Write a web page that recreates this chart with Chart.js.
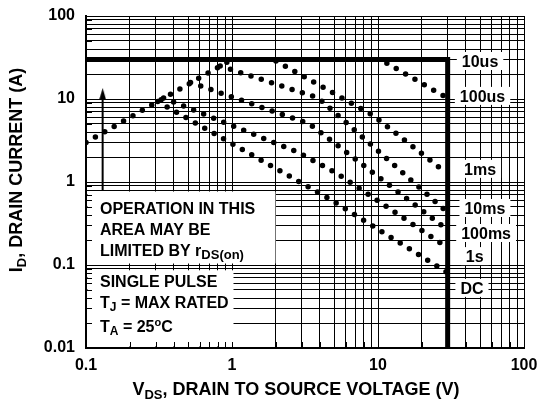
<!DOCTYPE html>
<html>
<head>
<meta charset="utf-8">
<script src="https://cdn.jsdelivr.net/npm/chart.js@4.4.1/dist/chart.umd.min.js"></script>
<style>
  html, body { margin: 0; padding: 0; background: #fff; }
  #wrap { width: 539px; height: 402px; }
</style>
</head>
<body>
<div id="wrap"><canvas id="soaChart" width="539" height="402"></canvas></div>
<script>
// tick labels
const xTickLabels = ['0.1', '1', '10', '100'];
const yTickLabels = ['0.01', '0.1', '1', '10', '100'];

// current / voltage limit (10us)
const limitV = [0.1, 30, 30];
const limitI = [30, 30, 0.01];

// rDS(on) limit line
const rdsV = [0.1, 1.0];
const rdsI = [3.0, 30];

// pulse curves (V, A)
const us100V = [11.5, 29.5];
const us100I = [27, 10.4];
const ms1V = [2.0, 9.2, 29.5];
const ms1I = [28.7, 6.4, 1.28];
const ms10V = [0.83, 3.9, 29.5];
const ms10I = [25, 10.3, 0.44];
const ms100V = [0.52, 3.4, 29.5];
const ms100I = [15.8, 5.0, 0.27];
const s1V = [0.34, 2.8, 5.2, 29.5];
const s1I = [10.3, 2.3, 1.28, 0.165];
const dcV = [0.31, 4.7, 29.5];
const dcI = [9.3, 0.62, 0.082];

// arrow in the rDS(on) area
const arrowV = [0.13, 0.13];
const arrowI = [0.8, 11.5];

const pulseLabels = ['10us', '100us', '1ms', '10ms', '100ms', '1s', 'DC'];

const FONT = '"Liberation Sans", Arial, Helvetica, sans-serif';
function font(sz) { return 'bold ' + sz + 'px ' + FONT; }

function pts(vs, is) {
    return vs.map((v, i) => ({ x: v, y: is[i] }));
}

// 1..9 per decade, for the grid
function logTicks(lo, hi) {
    const out = [];
    for (let e = lo; e < hi; e++) {
        for (let m = 1; m < 10; m++) out.push(+(m * Math.pow(10, e)).toPrecision(3));
    }
    out.push(Math.pow(10, hi));
    return out;
}
const xGrid = logTicks(-1, 2);
const yGrid = logTicks(-2, 2);

function labelFor(list, value) {
    return list.find(l => Math.abs(Number(l) - value) < 1e-9) || '';
}

function drawRich(ctx, parts, x, y, align) {
    let w = 0;
    parts.forEach(p => {
        ctx.font = font(p.size);
        p.w = ctx.measureText(p.text).width;
        w += p.w;
    });
    let cx = align === 'center' ? x - w / 2 : x;
    parts.forEach(p => {
        ctx.font = font(p.size);
        ctx.fillText(p.text, cx, y + (p.dy || 0));
        cx += p.w;
    });
}

// narrow arrow head
const arrowHead = document.createElement('canvas');
arrowHead.width = 7;
arrowHead.height = 12;
(function () {
    const c = arrowHead.getContext('2d');
    c.fillStyle = '#000';
    c.beginPath();
    c.moveTo(3.5, 0);
    c.lineTo(7, 12);
    c.lineTo(0, 12);
    c.closePath();
    c.fill();
})();

// label anchors (V, A) for the curve names on the right
const labelAt = [[50, 28.7], [52, 10.9], [50, 1.44], [54, 0.486], [55, 0.243], [46, 0.128], [44, 0.053]];

const notes = {
    id: 'notes',
    beforeDatasetsDraw(chart) {
        const { ctx, chartArea: a, scales: { x, y } } = chart;
        ctx.save();
        ctx.fillStyle = '#fff';
        // text areas hide the grid
        const t1 = y.getPixelForValue(0.8) + 1.5;
        const b1 = y.getPixelForValue(0.1) - 1.5;
        const r1 = x.getPixelForValue(2.0) - 0.5;
        ctx.fillRect(a.left + 1.5, t1, r1 - a.left - 1.5, b1 - t1);
        const t2 = y.getPixelForValue(0.09) + 1.5;
        const r2 = x.getPixelForValue(1.0) + 1.5;
        ctx.fillRect(a.left + 1.5, t2, r2 - a.left - 1.5, a.bottom - 1.5 - t2);

        // inner tick marks along the axes
        ctx.strokeStyle = '#000';
        ctx.lineWidth = 1;
        y.ticks.forEach(t => {
            const py = Math.round(y.getPixelForValue(t.value)) + 0.5;
            ctx.beginPath(); ctx.moveTo(a.left, py); ctx.lineTo(a.left + 6, py); ctx.stroke();
        });
        x.ticks.forEach(t => {
            const px = Math.round(x.getPixelForValue(t.value)) + 0.5;
            ctx.beginPath(); ctx.moveTo(px, a.bottom); ctx.lineTo(px, a.bottom - 6); ctx.stroke();
        });

        ctx.fillStyle = '#000';
        ctx.textAlign = 'left';
        ctx.textBaseline = 'alphabetic';
        const tx = a.left + 14;
        drawRich(ctx, [{ text: 'OPERATION IN THIS', size: 16 }], tx, t1 + 22.5);
        drawRich(ctx, [{ text: 'AREA MAY BE', size: 16 }], tx, t1 + 43);
        drawRich(ctx, [{ text: 'LIMITED BY r', size: 16 }, { text: 'DS(on)', size: 13, dy: 3 }], tx, t1 + 64.5);
        drawRich(ctx, [{ text: 'SINGLE PULSE', size: 16 }], tx, t2 + 17);
        drawRich(ctx, [{ text: 'T', size: 16 }, { text: 'J', size: 12, dy: 3 }, { text: ' = MAX RATED', size: 16 }], tx, t2 + 38);
        drawRich(ctx, [{ text: 'T', size: 16 }, { text: 'A', size: 12, dy: 3 }, { text: ' = 25', size: 16 },
                       { text: 'o', size: 11, dy: -6 }, { text: 'C', size: 16 }], tx, t2 + 62);

        // curve names
        ctx.font = font(16);
        pulseLabels.forEach((name, i) => {
            const px = x.getPixelForValue(labelAt[i][0]);
            const py = y.getPixelForValue(labelAt[i][1]);
            const w = ctx.measureText(name).width;
            ctx.fillStyle = '#fff';
            ctx.fillRect(px - w / 2 - 5, py - 9, w + 10, 18);
            ctx.fillStyle = '#000';
            ctx.textAlign = 'center';
            ctx.fillText(name, px, py + 6);
        });
        ctx.restore();
    },
    afterDraw(chart) {
        const { ctx } = chart;
        ctx.save();
        ctx.fillStyle = '#000';
        ctx.textAlign = 'left';
        ctx.textBaseline = 'alphabetic';
        drawRich(ctx, [{ text: 'V', size: 18 }, { text: 'DS', size: 13, dy: 4 },
                       { text: ', DRAIN TO SOURCE VOLTAGE (V)', size: 18 }], 296, 395, 'center');
        ctx.translate(16, 170);
        ctx.rotate(-Math.PI / 2);
        drawRich(ctx, [{ text: 'I', size: 18 }, { text: 'D', size: 13, dy: 4 },
                       { text: ', DRAIN CURRENT (A)', size: 18 }], 0, 6, 'center');
        ctx.restore();
    }
};

const dotted = {
    borderColor: '#000',
    borderWidth: 5.5,
    borderDash: [0, 10.8],
    borderCapStyle: 'round',
    pointRadius: 0,
    fill: false,
    tension: 0
};

const ctx = document.getElementById('soaChart').getContext('2d');
const chart = new Chart(ctx, {
    type: 'line',
    data: {
        datasets: [
            { label: '10us', data: pts(limitV, limitI), borderColor: '#000', borderWidth: 5,
              pointRadius: 0, borderJoinStyle: 'miter', fill: false },
            { label: 'rDS(on)', data: pts(rdsV, rdsI), ...dotted },
            { label: '100us', data: pts(us100V, us100I), ...dotted },
            { label: '1ms', data: pts(ms1V, ms1I), ...dotted },
            { label: '10ms', data: pts(ms10V, ms10I), ...dotted },
            { label: '100ms', data: pts(ms100V, ms100I), ...dotted },
            { label: '1s', data: pts(s1V, s1I), ...dotted },
            { label: 'DC', data: pts(dcV, dcI), ...dotted },
            { label: 'arrow', data: pts(arrowV, arrowI), borderColor: '#000', borderWidth: 2,
              pointRadius: [0, 5], pointStyle: arrowHead, fill: false }
        ]
    },
    options: {
        responsive: false,
        animation: false,
        devicePixelRatio: 1,
        events: [],
        layout: { padding: { left: 0, right: 15, top: 16, bottom: 0 } },
        plugins: {
            legend: { display: false },
            tooltip: { enabled: false }
        },
        scales: {
            x: {
                type: 'logarithmic',
                min: 0.1,
                max: 100,
                afterFit: (scale) => {
                    scale.height = 54;
                    scale.paddingLeft = 0;
                    scale.paddingRight = 0;
                },
                afterBuildTicks: (scale) => { scale.ticks = xGrid.map(v => ({ value: v })); },
                grid: { color: '#000', lineWidth: 1, drawTicks: false },
                border: { color: '#000', width: 2 },
                ticks: {
                    autoSkip: false,
                    maxRotation: 0,
                    padding: 8,
                    color: '#000',
                    font: { family: FONT, size: 16, weight: 'bold' },
                    callback: (value) => labelFor(xTickLabels, value)
                }
            },
            y: {
                type: 'logarithmic',
                min: 0.01,
                max: 100,
                afterFit: (scale) => {
                    scale.width = 86;
                    scale.paddingTop = 0;
                    scale.paddingBottom = 0;
                },
                afterBuildTicks: (scale) => { scale.ticks = yGrid.map(v => ({ value: v })); },
                grid: { color: '#000', lineWidth: 1, drawTicks: false },
                border: { color: '#000', width: 2 },
                ticks: {
                    autoSkip: false,
                    padding: 11,
                    color: '#000',
                    font: { family: FONT, size: 16, weight: 'bold' },
                    callback: (value) => labelFor(yTickLabels, value)
                }
            }
        }
    },
    plugins: [notes]
});
</script>
</body>
</html>
